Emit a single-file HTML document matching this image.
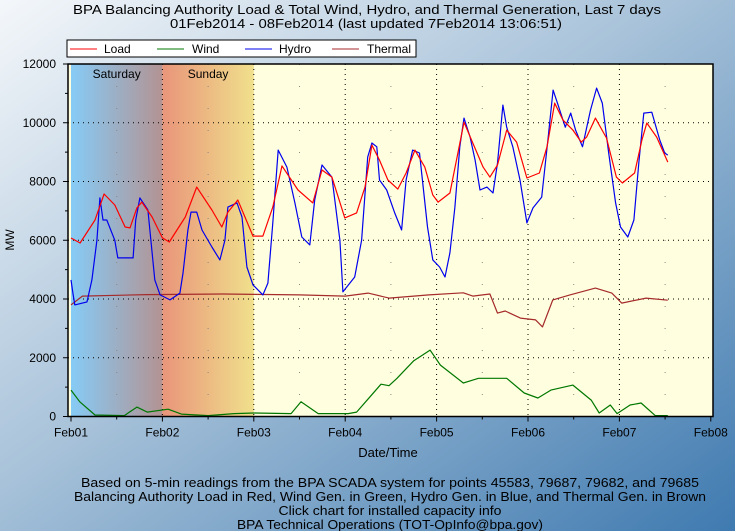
<!DOCTYPE html>
<html><head><meta charset="utf-8"><style>
html,body{margin:0;padding:0;width:735px;height:531px;overflow:hidden}
svg{display:block;font-family:"Liberation Sans",sans-serif}
</style></head><body>
<svg id="chart" width="735" height="531" viewBox="0 0 735 531" xmlns="http://www.w3.org/2000/svg">
<defs>
<linearGradient id="bg" x1="0" y1="0" x2="1" y2="1">
<stop offset="0" stop-color="#f4f7fa"/><stop offset="0.45" stop-color="#a9c3da"/><stop offset="1" stop-color="#3f7ab0"/></linearGradient>
<linearGradient id="sat" x1="0" y1="0" x2="1" y2="0"><stop offset="0" stop-color="#86cbf6"/><stop offset="1" stop-color="#b39393"/></linearGradient>
<linearGradient id="sun" x1="0" y1="0" x2="1" y2="0"><stop offset="0" stop-color="#e9957a"/><stop offset="1" stop-color="#f0e08c"/></linearGradient>
</defs>
<rect x="0" y="0" width="735" height="531" fill="url(#bg)"/>
<text x="367" y="14" font-size="13" text-anchor="middle" textLength="588" lengthAdjust="spacingAndGlyphs">BPA Balancing Authority Load &amp; Total Wind, Hydro, and Thermal Generation, Last 7 days</text>
<text x="366" y="28" font-size="13" text-anchor="middle" textLength="392" lengthAdjust="spacingAndGlyphs">01Feb2014 - 08Feb2014 (last updated 7Feb2014 13:06:51)</text>
<g id="plot"></g>
<g>
<rect x="67" y="40" width="349" height="17" fill="#fff" stroke="#000" stroke-width="1"/>
<line x1="70" y1="49" x2="97" y2="49" stroke="#ff0000"/><text x="104" y="53" font-size="12">Load</text>
<line x1="157" y1="49" x2="184" y2="49" stroke="#007700"/><text x="192" y="53" font-size="12">Wind</text>
<line x1="245" y1="49" x2="272" y2="49" stroke="#0000ee"/><text x="279" y="53" font-size="12">Hydro</text>
<line x1="332" y1="49" x2="359" y2="49" stroke="#a52a2a"/><text x="367" y="53" font-size="12">Thermal</text>
</g>
<text x="388" y="457" font-size="13" text-anchor="middle">Date/Time</text>
<text x="14" y="240" font-size="12" text-anchor="middle" transform="rotate(-90 14 240)">MW</text>
<g font-size="13" text-anchor="middle">
<text x="390" y="487" textLength="618" lengthAdjust="spacingAndGlyphs">Based on 5-min readings from the BPA SCADA system for points 45583, 79687, 79682, and 79685</text>
<text x="390" y="501" textLength="632" lengthAdjust="spacingAndGlyphs">Balancing Authority Load in Red, Wind Gen. in Green, Hydro Gen. in Blue, and Thermal Gen. in Brown</text>
<text x="390" y="515" textLength="223" lengthAdjust="spacingAndGlyphs">Click chart for installed capacity info</text>
<text x="390" y="529" textLength="306" lengthAdjust="spacingAndGlyphs">BPA Technical Operations (TOT-OpInfo@bpa.gov)</text>
</g>
</svg>
<script>
const dayLabels = ["Feb01","Feb02","Feb03","Feb04","Feb05","Feb06","Feb07","Feb08"];
const yTicks = [0,2000,4000,6000,8000,10000,12000];
const shadeDays = ["Saturday","Sunday"];
const loadHours = [0,2.4,6.3,8.7,11.5,14.2,15.5,17.3,18.6,21.3,24,25.8,30,33,37,39.6,41.2,43.8,47.8,50.4,53,55.4,59.6,63.5,65.9,68.5,71.9,75,77.2,79,81,83.2,85.8,88,90.3,92.9,95,96.4,99.5,101.6,103.2,105.5,108.2,110,112,114.4,117,119.7,123,125,127,129.2,131.8,134,135.4,137.7,140.6,143.2,144.8,148,149.9,151.2,153.8,156.7];
const loadMW = [6076,5906,6690,7574,7200,6450,6420,7100,7300,6790,6080,5940,6790,7810,7030,6450,6960,7370,6140,6140,7130,8530,7710,7270,8390,8150,6760,6930,7810,9240,8730,8050,7740,8290,9070,8490,7540,7300,7610,8970,10020,9310,8490,8150,8560,9750,9340,8120,8290,9180,10670,10090,9750,9340,9510,10160,9480,8150,7950,8290,9410,9990,9510,8660];
const hydroHours = [0,0.5,1,4.2,5.5,6.8,7.6,8.4,9.4,11.5,12.3,16.3,17,18.1,20.2,22,23.4,26,28.6,29.4,30.7,31.5,33,34.4,37,39.1,40.4,41.2,43.6,44.9,46.2,47.8,50.4,51.7,53,54.4,56.7,58.8,60.6,62.7,64,65.9,68.5,70.6,71.4,74.5,76.3,77.9,79,80.3,81,82.9,85,86.8,88,89.7,91.5,93.6,95,96.8,98.2,99.5,100.8,102.1,103.2,104.8,106.1,107.4,109.2,110.8,112,113.4,114.4,116,117.9,119.7,121.3,123.6,125.3,126.6,127.9,129.8,131.2,132.5,134.3,136.4,138,139.5,141.2,143,144.3,146.2,147.8,149.1,150.4,152.5,154.6,155.9,156.7];
const hydroMW = [4650,4200,3800,3900,4650,6000,7440,6690,6690,6000,5400,5400,6690,7440,7030,4650,4140,3970,4200,4880,6350,6960,6960,6350,5770,5330,6000,7130,7270,6790,5090,4480,4140,4540,6590,9070,8490,7270,6110,5840,7370,8560,8150,6000,4240,4750,6000,8830,9310,9180,8050,7710,6930,6350,8050,9070,8970,6450,5330,5090,4750,5570,7130,9180,10160,9510,8730,7710,7810,7610,8630,10600,9850,9180,8050,6590,7100,7470,9510,11110,10600,9850,10330,9750,9180,10430,11180,10670,8970,7270,6450,6110,6690,8630,10330,10360,9410,8970,8900];
const thermalHours = [0,3,20,40,60,72,78,83.5,94,103,105.5,110,112,114,118,122,123.8,126.5,131,137.7,142,144.6,151,156.7];
const thermalMW = [3800,4100,4150,4170,4140,4100,4200,4030,4140,4210,4100,4170,3520,3590,3350,3290,3050,3970,4140,4370,4200,3860,4030,3960];
const windHours = [0,2.3,6.3,14,17.3,20,25.5,29,36,42.8,48,57.8,60.4,64.9,72.8,75,78.5,81.4,83.5,85.6,90,94.3,97,103,107,114.4,119,122.6,126,131.8,136.6,138.7,141.6,143.4,146.8,149.7,153.4,156.7];
const windMW = [900,500,50,30,320,150,250,80,30,100,120,100,500,100,100,150,670,1100,1050,1300,1900,2260,1750,1140,1300,1300,800,630,900,1070,560,120,390,100,390,460,30,30];

const L=68,R=713,T=64,B=416.5,X0=71,PXDAY=91.4;
const xOf=h=>X0+h/24*PXDAY;
const yOf=v=>B-(v/12000)*(B-T);
const NS="http://www.w3.org/2000/svg";
const plot=document.getElementById('plot');
function mk(tag,attrs,parent){const e=document.createElementNS(NS,tag);for(const k in attrs)e.setAttribute(k,attrs[k]);(parent||plot).appendChild(e);return e;}

const area=mk('rect',{x:L,y:T,width:R-L,height:B-T,fill:'#ffffdf'});


shadeDays.forEach((d,i)=>{
  const r=mk('rect',{x:xOf(i*24),y:T,width:PXDAY,height:B-T,fill:i===0?'url(#sat)':'url(#sun)'});
  
  
  const t=mk('text',{x:xOf(i*24+12),y:T+14,'font-size':12,'text-anchor':'middle'});
  t.textContent=d;
  
  
});
yTicks.forEach(v=>{
  if(v>0&&v<12000){const g=mk('line',{x1:L,x2:R,y1:yOf(v),y2:yOf(v),stroke:'#000','stroke-dasharray':'1 4'});
  
  }
  const tk=mk('line',{x1:L-5,x2:L,y1:yOf(v),y2:yOf(v),stroke:'#000'});
  
  
  const t=mk('text',{x:L-12,y:yOf(v)+4,'font-size':12,'text-anchor':'end'});
  t.textContent=v;
  
  
  if(v<12000){const m=mk('line',{x1:L-3,x2:L,y1:yOf(v+1000),y2:yOf(v+1000),stroke:'#000'});
  
  }
});
dayLabels.forEach((d,i)=>{
  const x=xOf(i*24);
  if(i>0&&i<7){const g=mk('line',{x1:x,x2:x,y1:T,y2:B,stroke:'#000','stroke-dasharray':'1 4'});
  
  }
  if(i<7){const gm=mk('line',{x1:xOf(i*24+12),x2:xOf(i*24+12),y1:T,y2:B,stroke:'#888','stroke-dasharray':'1 21'});
  
  
  const m=mk('line',{x1:xOf(i*24+12),x2:xOf(i*24+12),y1:B,y2:B+3,stroke:'#000'});
  
  }
  const tk=mk('line',{x1:x,x2:x,y1:B,y2:B+5,stroke:'#000'});
  
  
  const t=mk('text',{x:x,y:B+20,'font-size':12,'text-anchor':'middle'});
  t.textContent=d;
  
  
});
function series(hours,vals,color,name){
  let d='';hours.forEach((h,i)=>{d+=(i?'L':'M')+xOf(h).toFixed(1)+' '+yOf(vals[i]).toFixed(1);});
  const p=mk('path',{d:d,fill:'none',stroke:color,'stroke-width':1.2,'stroke-linejoin':'round'});
  
  
}
series(windHours,windMW,'#007700','wind-line');
series(thermalHours,thermalMW,'#a52a2a','thermal-line');
series(hydroHours,hydroMW,'#0000ee','hydro-line');
series(loadHours,loadMW,'#ff0000','load-line');
const fr=mk('rect',{x:L,y:T,width:R-L,height:B-T,fill:'none',stroke:'#000','stroke-width':1.5});


</script>
</body></html>
